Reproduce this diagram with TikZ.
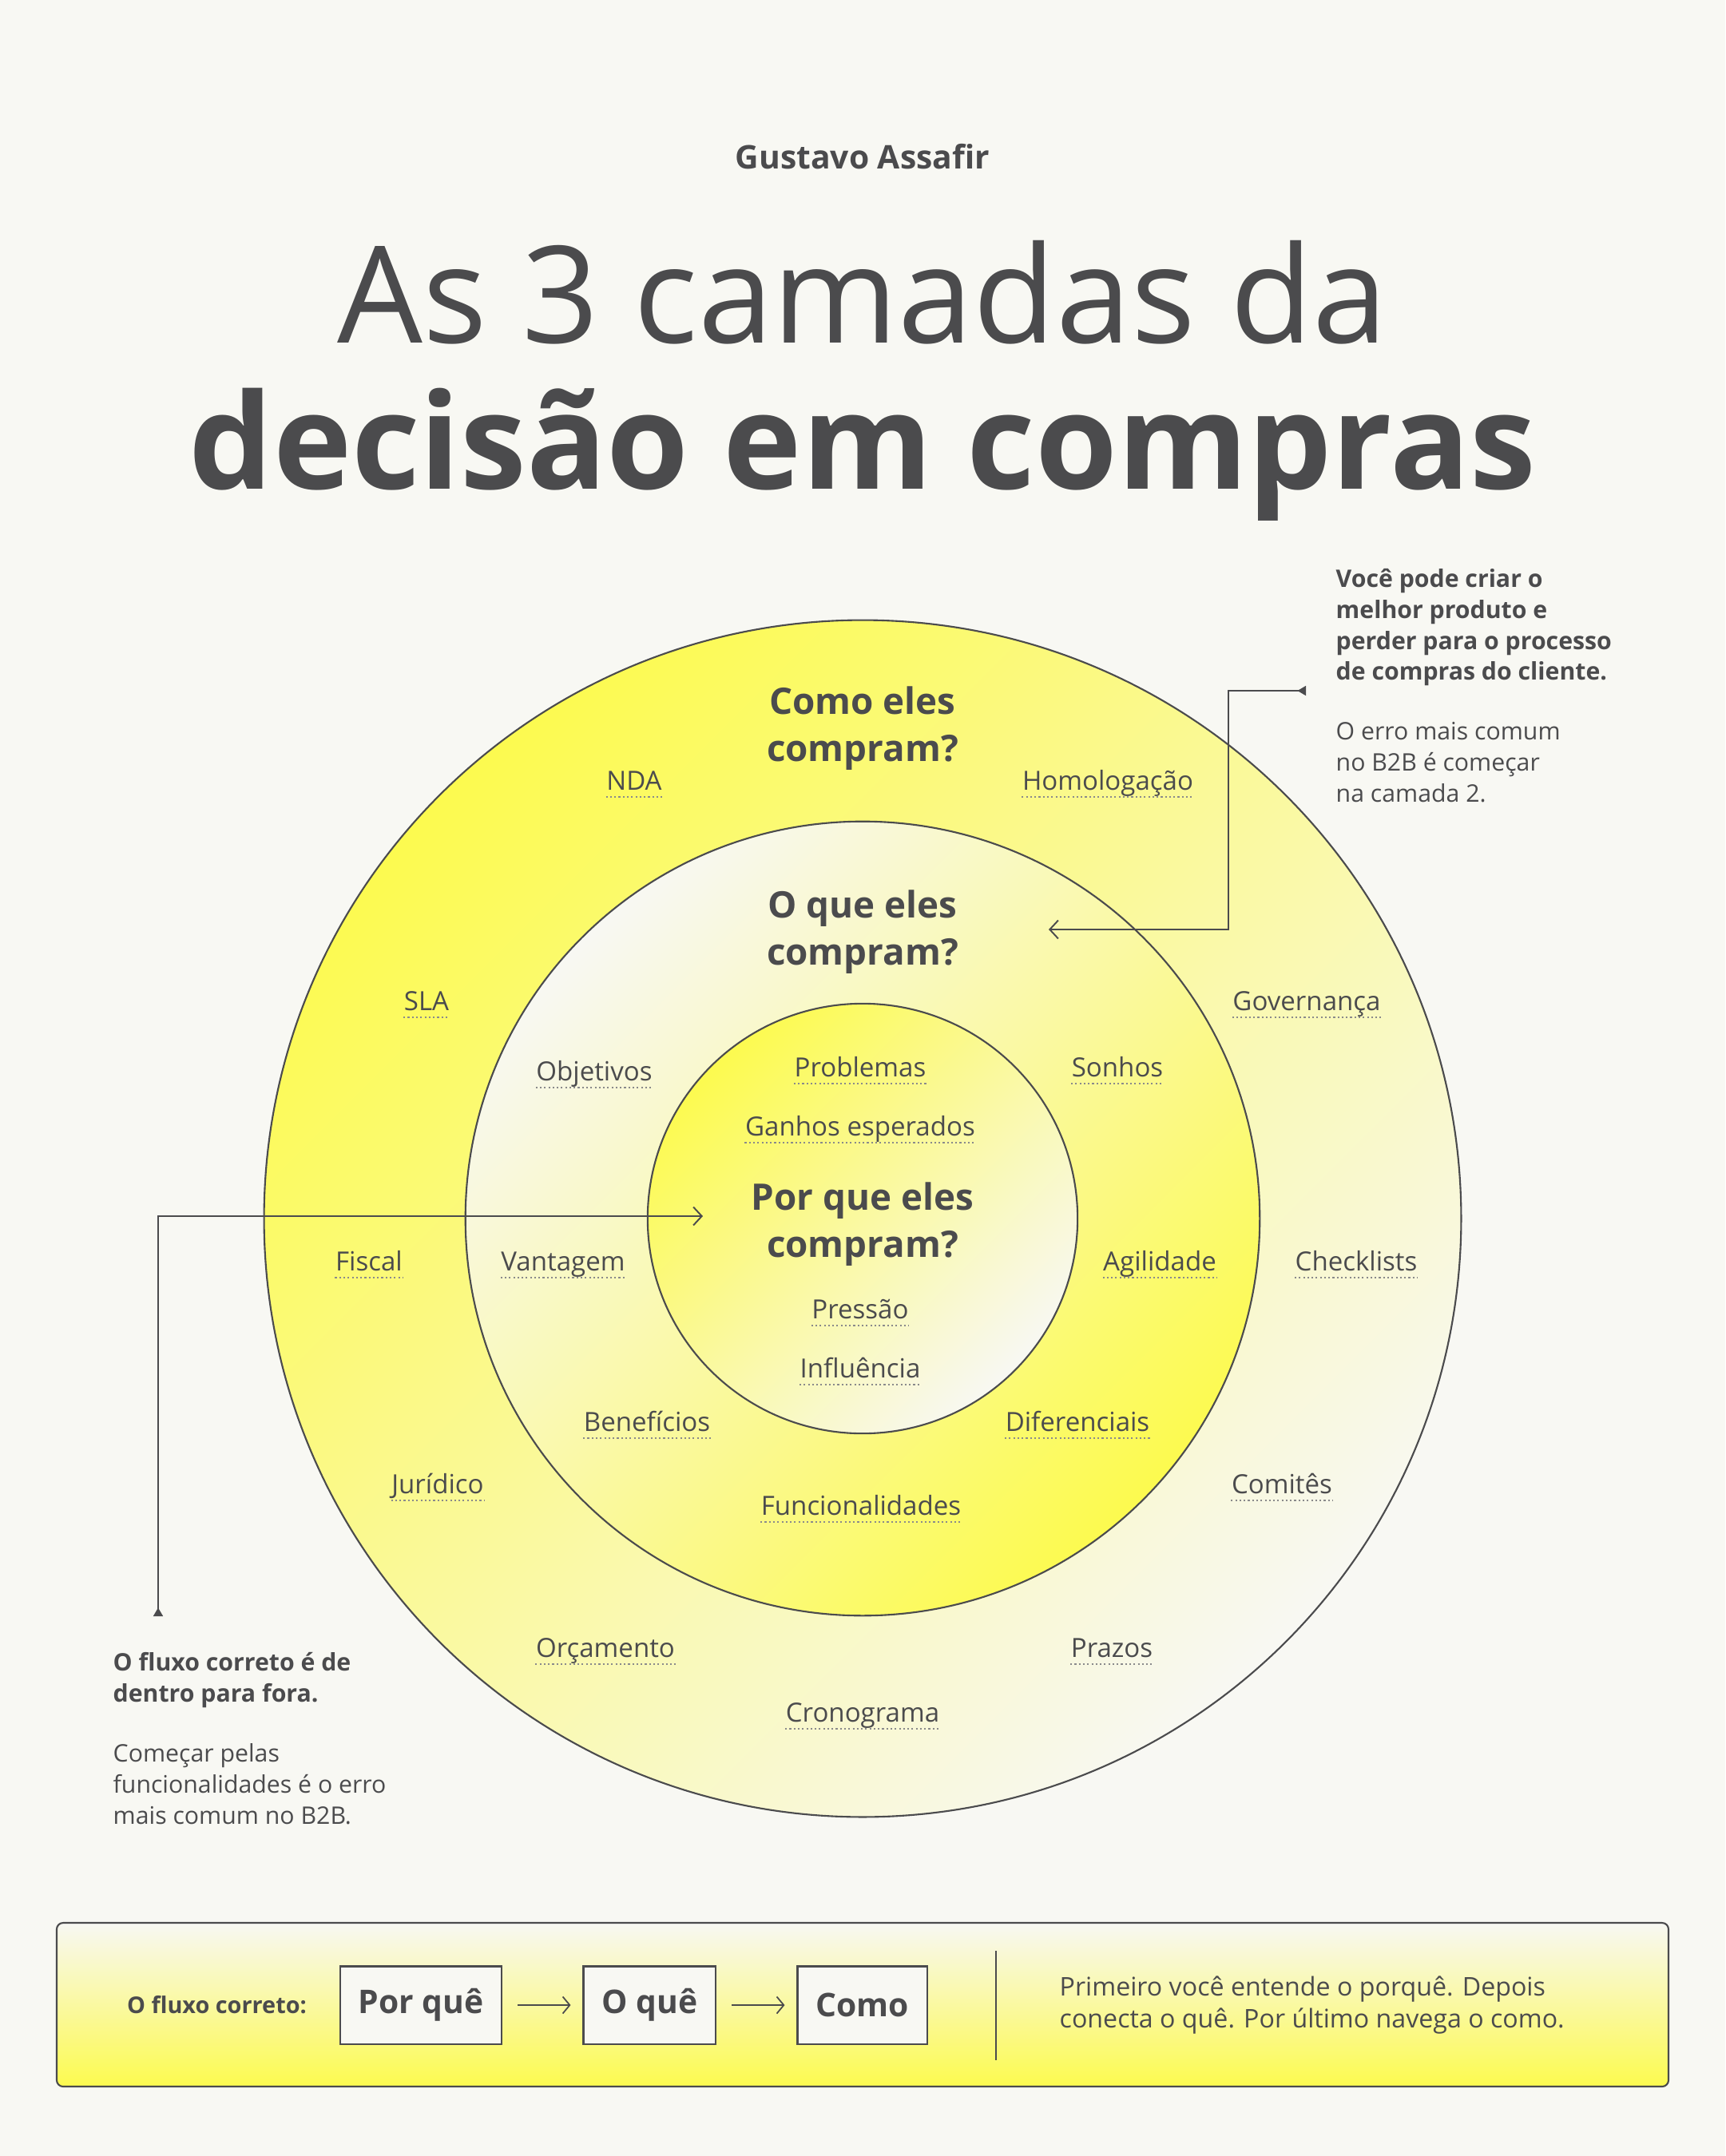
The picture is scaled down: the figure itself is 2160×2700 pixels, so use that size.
\documentclass[tikz,border=0pt]{standalone}
\usepackage{fontspec}
\setmainfont{Open Sans}
\usetikzlibrary{arrows.meta, positioning}
\definecolor{ink}{HTML}{4B4B4D}
\definecolor{paper}{HTML}{F8F8F3}
\definecolor{lemon}{HTML}{FCFA4F}
\tikzset{
    dotline/.style={draw=ink!65, line width=0.5pt, dash pattern=on 0.6pt off 0.9pt},
    tag/.style={font=\fontsize{9.4}{11}\selectfont, text=ink, inner sep=0pt, text height=0.25cm, text depth=0.08cm,
        append after command={(\tikzlastnode.south west) edge[dotline] (\tikzlastnode.south east)}},
    layer/.style={font=\fontsize{13}{16.8}\selectfont\bfseries, text=ink, align=center, inner sep=0pt},
    ring/.style={draw=ink, line width=0.6pt},
    note/.style={font=\fontsize{8.6}{11}\selectfont, text=ink, align=left, inner sep=0pt, anchor=north west},
    callout/.style={draw=ink, line width=0.55pt, {Triangle[reversed, length=3pt, width=3.4pt]}-{Straight Barb[length=3pt, width=6.5pt]}},
    stepbox/.style={draw=ink, fill=paper, line width=0.6pt, minimum height=0.97cm, inner xsep=0.23cm, font=\fontsize{11.6}{14}\selectfont\bfseries, text=ink},
    flow/.style={draw=ink, line width=0.5pt, -{Straight Barb[length=2.5pt, width=6pt]}, shorten <=0.19cm, shorten >=0.15cm}
}

\begin{document}
\begin{tikzpicture}[x=0.01cm, y=-0.01cm]
    \fill[paper] (0,0) rectangle (2160,2700);
    \useasboundingbox (0,0) rectangle (2160,2700);

    % heading
    \node (author) [font=\fontsize{11.6}{14}\selectfont\bfseries, text=ink] at (1080,196) {Gustavo Assafir};
    \node (title1) [font=\fontsize{48}{56}\selectfont, text=ink, anchor=base] at (1080,429) {As 3 camadas da};
    \node (title2) [font=\fontsize{47.3}{56}\selectfont\bfseries, text=ink, anchor=base] at (1080,612) {decisão em compras};

    % the three rings
    \coordinate (c) at (1080,1526);
    \shade[top color=lemon, middle color=lemon!32!paper, bottom color=paper, shading angle=45] (c) circle[radius=7.49cm];
    \shade[top color=paper, bottom color=lemon, shading angle=45] (c) circle[radius=4.97cm];
    \shade[top color=lemon, middle color=lemon!30!paper, bottom color=paper, shading angle=45] (c) circle[radius=2.69cm];
    \draw[ring] (c) circle[radius=7.49cm] (c) circle[radius=4.97cm] (c) circle[radius=2.69cm];

    \node (how) [layer] at (1080,912) {Como eles\\compram?};
    \node (what) [layer] at (1080,1167) {O que eles\\compram?};
    \node (why) [layer] at (1080,1533) {Por que eles\\compram?};

    % outer ring
    \node (nda) [tag] at (794,981) {NDA};
    \node (homolog) [tag] at (1387,981) {Homologação};
    \node (sla) [tag] at (534,1257) {SLA};
    \node (govern) [tag] at (1636,1257) {Governança};
    \node (fiscal) [tag] at (462,1583) {Fiscal};
    \node (check) [tag] at (1698,1583) {Checklists};
    \node (juridico) [tag] at (548,1862) {Jurídico};
    \node (comite) [tag] at (1605,1862) {Comitês};
    \node (orcam) [tag] at (758,2067) {Orçamento};
    \node (prazo) [tag] at (1392,2067) {Prazos};
    \node (crono) [tag] at (1080,2148) {Cronograma};

    % middle ring
    \node (objet) [tag] at (744,1345) {Objetivos};
    \node (sonho) [tag] at (1399,1340) {Sonhos};
    \node (vantag) [tag] at (705,1583) {Vantagem};
    \node (agil) [tag] at (1452,1583) {Agilidade};
    \node (benef) [tag] at (810,1784) {Benefícios};
    \node (difer) [tag] at (1349,1784) {Diferenciais};
    \node (funcio) [tag] at (1078,1889) {Funcionalidades};

    % inner circle
    \node (probl) [tag] at (1077,1340) {Problemas};
    \node (ganho) [tag] at (1077,1414) {Ganhos esperados};
    \node (press) [tag] at (1077,1643) {Pressão};
    \node (influ) [tag] at (1077,1717) {Influência};

    % side notes
    \node (rnote) [note, font=\fontsize{8.6}{11}\selectfont\bfseries] at (1672,712) {Você pode criar o\\melhor produto e\\perder para o processo\\de compras do cliente.};
    \node (rnote2) [note] at (1672,904) {O erro mais comum\\no B2B é começar\\na camada 2.};
    \node (lnote) [note, font=\fontsize{8.6}{11}\selectfont\bfseries] at (141,2069) {O fluxo correto é de\\dentro para fora.};
    \node (lnote2) [note] at (141,2183) {Começar pelas\\funcionalidades é o erro\\mais comum no B2B.};

    \coordinate (rtail) at (1635,865);
    \coordinate (rbend) at (1538,1164);
    \coordinate (rhead) at (1313,1164);
    \draw[callout] (rtail) -| (rbend) -- (rhead);
    \coordinate (ltail) at (198,2024);
    \coordinate (lhead) at (880,1523);
    \draw[callout] (ltail) |- (lhead);

    % bottom bar
    \shade[top color=paper, bottom color=lemon, draw=ink, line width=0.6pt, rounded corners=0.08cm] (71,2408) rectangle (2089,2613);
    \node (s1) [stepbox] at (527,2511) {Por quê};
    \node (s2) [stepbox, right=1.0cm of s1] {O quê};
    \node (s3) [stepbox, right=1.0cm of s2] {Como};
    \node (flowlbl) [left=0.4cm of s1, font=\fontsize{8.2}{10}\selectfont\bfseries, text=ink, inner sep=0pt] {O fluxo correto:};
    \draw[flow] (s1) -- (s2);
    \draw[flow] (s2) -- (s3);
    \coordinate (septop) at (1247,2443);
    \coordinate (sepbot) at (1247,2580);
    \draw[ink, line width=0.5pt] (septop) -- (sepbot);
    \node (summary) [font=\fontsize{9.15}{11.4}\selectfont, text=ink, align=left, inner sep=0pt, anchor=west] at (1326,2511) {Primeiro você entende o porquê. Depois\\conecta o quê. Por último navega o como.};
\end{tikzpicture}
\end{document}
